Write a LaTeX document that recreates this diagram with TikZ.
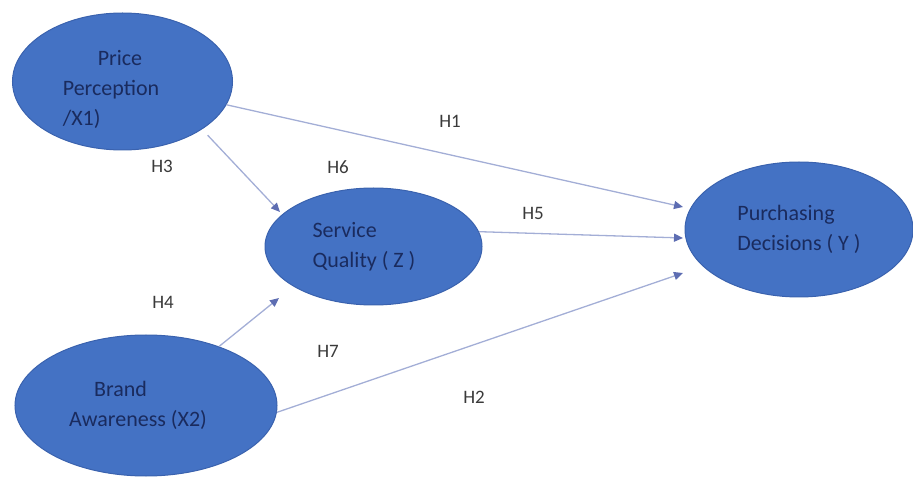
\documentclass[tikz,border=0pt]{standalone}
\usepackage{fontspec}
\setmainfont{Carlito}
\usepackage{tikz}
\usetikzlibrary{arrows.meta,positioning,shapes.geometric}
\definecolor{ovalblue}{HTML}{4472C4}
\definecolor{ovalrim}{HTML}{3A62AE}
\definecolor{ovaltext}{HTML}{1A2B5E}
\definecolor{linkblue}{HTML}{A3AED6}
\definecolor{tipblue}{HTML}{5D6DB2}
\definecolor{labelgray}{HTML}{3A3A3A}

\begin{document}
\begin{tikzpicture}[x=1pt,y=-1pt,
  latent/.style={ellipse,draw=ovalrim,fill=ovalblue,line width=1pt,inner sep=0pt,align=left,text=ovaltext,font=\fontsize{22}{30}\selectfont},
  hyp/.style={color=linkblue,line width=1.3pt,-{Triangle[length=9pt,width=8pt,color=tipblue]}},
  hlabel/.style={text=labelgray,font=\fontsize{19}{22}\selectfont}]
\useasboundingbox (0,0) rectangle (913,478);
\node[latent,minimum width=220pt,minimum height=137pt] (X1) at (122.5,81.5) {\rule{0pt}{31pt}\hspace*{35pt}Price\\Perception\rule{23pt}{0pt}\\/X1)};
\node[latent,minimum width=217pt,minimum height=117pt] (Z) at (373.5,246.5) {Service\\Quality ( Z )\rule{19pt}{0pt}};
\node[latent,minimum width=228pt,minimum height=135pt] (Y) at (799,229.5) {Purchasing\\Decisions ( Y )};
\node[latent,minimum width=262pt,minimum height=141pt] (X2) at (146,405.5) {\hspace*{25pt}Brand\\Awareness (X2)\rule{16pt}{0pt}};
% arrow tips stop short of the ovals
\coordinate (y1) at (683,207);
\coordinate (y2) at (683,238);
\coordinate (y3) at (683,273);
\coordinate (z1) at (280,212);
\coordinate (z2) at (279,298);
\path[hyp]
(X1) edge (y1)
(X1.-31) edge[shorten <=8pt] (z1)
(Z.8) edge (y2)
(X2) edge (z2)
(X2.-3) edge (y3);
%\node (H0) at (0,0) {};
\node[hlabel] (H1) at (450,121) {H1};
\node[hlabel] (H2) at (474,397) {H2};
\node[hlabel] (H3) at (162,166) {H3};
\node[hlabel] (H4) at (163,302) {H4};
\node[hlabel] (H5) at (533,213) {H5};
\node[hlabel] (H6) at (338,167) {H6};
\node[hlabel] (H7) at (328,351) {H7};
\end{tikzpicture}
\end{document}
